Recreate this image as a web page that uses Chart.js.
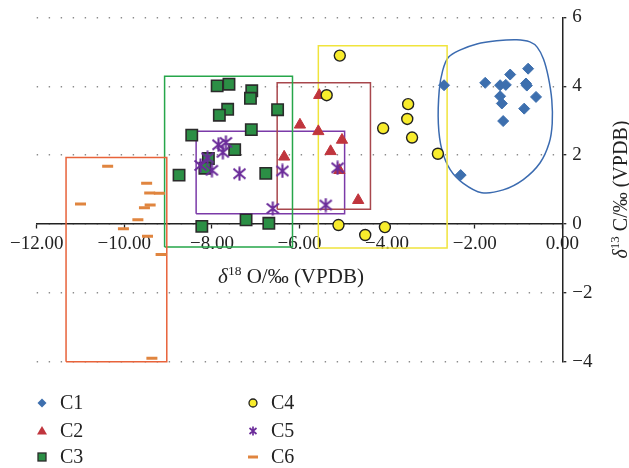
<!DOCTYPE html>
<html>
<head>
<meta charset="utf-8">
<script src="https://cdn.jsdelivr.net/npm/chart.js"></script>
<style>
  html, body { margin: 0; padding: 0; background: #ffffff; }
  #wrap { width: 629px; height: 468px; position: relative; }
</style>
</head>
<body>
<div id="wrap"><canvas id="c" width="629" height="468"></canvas></div>
<script>
// ---------------- DATA ----------------
const categories = ['C1', 'C2', 'C3', 'C4', 'C5', 'C6'];

const c1Points = [[-2.70,4.03],[-1.76,4.10],[-1.42,4.03],[-1.29,4.04],[-1.19,4.34],[-0.78,4.51],[-0.83,4.08],[-0.81,4.02],[-0.60,3.69],[-1.42,3.71],[-1.38,3.50],[-0.87,3.35],[-1.35,2.99],[-2.32,1.42]];
const c2Points = [[-5.55,3.74],[-5.99,2.88],[-5.57,2.69],[-5.03,2.44],[-5.29,2.11],[-6.35,1.95],[-5.09,1.56],[-4.66,0.69]];
const c3Points = [[-7.88,4.01],[-7.61,4.06],[-7.09,3.87],[-7.12,3.65],[-7.64,3.33],[-7.83,3.16],[-6.50,3.32],[-7.10,2.74],[-8.46,2.58],[-7.48,2.16],[-8.08,1.90],[-8.16,1.62],[-8.75,1.42],[-6.77,1.47],[-7.22,0.12],[-6.70,0.02],[-8.23,-0.07]];
const c4Points = [[-5.08,4.89],[-5.38,3.74],[-3.52,3.48],[-3.54,3.05],[-4.09,2.78],[-3.43,2.51],[-2.84,2.04],[-5.11,-0.03],[-4.05,-0.09],[-4.50,-0.32]];
const c5Points = [[-7.85,2.30],[-7.68,2.37],[-7.75,2.08],[-8.10,1.92],[-8.26,1.70],[-8.00,1.56],[-7.37,1.46],[-6.39,1.54],[-5.13,1.63],[-6.61,0.45],[-5.40,0.55]];
const c6Points = [[-10.38,1.68],[-9.49,1.18],[-9.42,0.90],[-9.20,0.89],[-11.00,0.58],[-9.54,0.47],[-9.41,0.55],[-9.69,0.12],[-10.02,-0.14],[-9.47,-0.36],[-9.16,-0.89],[-9.37,-3.90]];

// group boxes: [xMin, xMax, yMin, yMax]
const boxC2 = [-6.51, -4.38, 0.43, 4.10];
const boxC3 = [-9.08, -6.16, -0.67, 4.29];
const boxC4 = [-5.57, -2.63, -0.70, 5.18];
const boxC5 = [-8.36, -4.97, 0.30, 2.69];
const boxC6 = [-11.33, -9.03, -4.00, 1.93];
// C1 enclosing outline
const blobC1 = [[-2.60,4.84],[-2.34,5.05],[-1.95,5.23],[-1.50,5.32],[-1.04,5.35],[-0.74,5.29],[-0.57,5.13],[-0.43,4.79],[-0.32,4.27],[-0.24,3.60],[-0.23,2.92],[-0.30,2.35],[-0.51,1.77],[-0.89,1.29],[-1.35,0.99],[-1.84,0.91],[-2.26,1.18],[-2.56,1.58],[-2.75,2.16],[-2.83,2.92],[-2.81,3.88],[-2.73,4.46]];

const xTicks = [-12, -10, -8, -6, -4, -2, 0];
const yTicks = [-4, -2, 0, 2, 4, 6];

// ---------------- HELPERS ----------------
const SERIF = '"Liberation Serif", "DejaVu Serif", serif';
const toXY = pts => pts.map(p => ({x: p[0], y: p[1]}));
const boxData = b => [{x:b[0],y:b[2]},{x:b[0],y:b[3]},{x:b[1],y:b[3]},{x:b[1],y:b[2]},{x:b[0],y:b[2]}];
const minus = v => (v < 0 ? '\u2212' : '');

const col = {
  c1: '#3d6fae', c2: '#c0353d', c3: '#2b8f45', c4: '#f8ec2c', c5: '#6b2c9a', c6: '#e0853f',
  bC1: '#3b6bb0', bC2: '#a8474c', bC3: '#26a64a', bC4: '#f0e43c', bC5: '#7b3aa8', bC6: '#e8633a'
};

function makeStar(size, color, lw) {
  const cv = document.createElement('canvas');
  cv.width = size; cv.height = size;
  const g = cv.getContext('2d');
  g.strokeStyle = color; g.lineWidth = lw; g.lineCap = 'butt';
  const m = 1.5, s = size;
  g.beginPath();
  g.moveTo(m, m + 1); g.lineTo(s - m, s - m - 1);
  g.moveTo(s - m, m + 1); g.lineTo(m, s - m - 1);
  g.moveTo(s / 2, 0.5); g.lineTo(s / 2, s - 0.5);
  g.stroke();
  return cv;
}
const starBig = makeStar(15, col.c5, 2.1);

// ---------------- PLUGINS ----------------
const blobPlugin = {
  id: 'blob',
  beforeDatasetsDraw(chart) {
    const {ctx, scales: {x, y}} = chart;
    const P = blobC1.map(p => [x.getPixelForValue(p[0]), y.getPixelForValue(p[1])]);
    const n = P.length;
    ctx.save();
    ctx.strokeStyle = col.bC1;
    ctx.lineWidth = 1.5;
    ctx.beginPath();
    ctx.moveTo(P[0][0], P[0][1]);
    for (let i = 0; i < n; i++) {
      const p0 = P[(i - 1 + n) % n], p1 = P[i], p2 = P[(i + 1) % n], p3 = P[(i + 2) % n];
      const c1x = p1[0] + (p2[0] - p0[0]) / 6, c1y = p1[1] + (p2[1] - p0[1]) / 6;
      const c2x = p2[0] - (p3[0] - p1[0]) / 6, c2y = p2[1] - (p3[1] - p1[1]) / 6;
      ctx.bezierCurveTo(c1x, c1y, c2x, c2y, p2[0], p2[1]);
    }
    ctx.closePath();
    ctx.stroke();
    ctx.restore();
  }
};

function drawParts(ctx, parts, x, y, align) {
  let total = 0;
  parts.forEach(p => { ctx.font = (p.italic ? 'italic ' : '') + p.size + 'px ' + SERIF; p.w = ctx.measureText(p.t).width; total += p.w; });
  let cx = align === 'center' ? x - total / 2 : x;
  parts.forEach(p => {
    ctx.font = (p.italic ? 'italic ' : '') + p.size + 'px ' + SERIF;
    ctx.fillText(p.t, cx, y + (p.dy || 0));
    cx += p.w;
  });
}

function legendMarker(ctx, i, x, y) {
  ctx.save();
  if (i === 0) {
    ctx.fillStyle = col.c1; ctx.beginPath();
    ctx.moveTo(x, y - 4.5); ctx.lineTo(x + 4.5, y); ctx.lineTo(x, y + 4.5); ctx.lineTo(x - 4.5, y); ctx.closePath(); ctx.fill();
  } else if (i === 1) {
    ctx.fillStyle = col.c2; ctx.beginPath();
    ctx.moveTo(x, y - 5); ctx.lineTo(x + 5, y + 3.5); ctx.lineTo(x - 5, y + 3.5); ctx.closePath(); ctx.fill();
  } else if (i === 2) {
    ctx.fillStyle = col.c3; ctx.strokeStyle = '#2b2b2b'; ctx.lineWidth = 1.3;
    ctx.fillRect(x - 4, y - 4, 8, 8); ctx.strokeRect(x - 4, y - 4, 8, 8);
  } else if (i === 3) {
    ctx.fillStyle = col.c4; ctx.strokeStyle = '#222'; ctx.lineWidth = 1.3;
    ctx.beginPath(); ctx.arc(x, y, 4, 0, Math.PI * 2); ctx.fill(); ctx.stroke();
  } else if (i === 4) {
    ctx.strokeStyle = col.c5; ctx.lineWidth = 1.7; ctx.beginPath();
    ctx.moveTo(x - 3.5, y - 3); ctx.lineTo(x + 3.5, y + 3);
    ctx.moveTo(x + 3.5, y - 3); ctx.lineTo(x - 3.5, y + 3);
    ctx.moveTo(x, y - 4.5); ctx.lineTo(x, y + 4.5); ctx.stroke();
  } else {
    ctx.strokeStyle = col.c6; ctx.lineWidth = 3; ctx.beginPath();
    ctx.moveTo(x - 5, y); ctx.lineTo(x + 5, y); ctx.stroke();
  }
  ctx.restore();
}

const textPlugin = {
  id: 'texts',
  afterDraw(chart) {
    const ctx = chart.ctx;
    const area = chart.chartArea;
    ctx.save();
    ctx.fillStyle = '#222';
    ctx.textBaseline = 'alphabetic';
    ctx.textAlign = 'left';
    // x title
    drawParts(ctx, [
      {t: '\u03B4', italic: true, size: 21},
      {t: '18', size: 13.5, dy: -8.5},
      {t: ' O/\u2030 (VPDB)', size: 21}
    ], 291, 283, 'center');
    // y title (rotated)
    ctx.save();
    ctx.translate(627, (area.top + area.bottom) / 2);
    ctx.rotate(-Math.PI / 2);
    drawParts(ctx, [
      {t: '\u03B4', italic: true, size: 20},
      {t: '13', size: 13, dy: -8},
      {t: ' C/\u2030 (VPDB)', size: 20}
    ], 0, 0, 'center');
    ctx.restore();
    // legend
    const colX = [42, 253];
    const rowY = [403, 431, 457];
    ctx.textBaseline = 'middle';
    categories.forEach((name, i) => {
      const cx = colX[Math.floor(i / 3)], cy = rowY[i % 3];
      legendMarker(ctx, i, cx, cy);
      ctx.fillStyle = '#222';
      ctx.font = '20px ' + SERIF;
      ctx.fillText(name, cx + 18, cy + 1);
    });
    ctx.restore();
  }
};

// ---------------- CHART ----------------
const boxStyle = (data, color) => ({
  data: boxData(data), showLine: true, borderColor: color, borderWidth: 1.5,
  pointRadius: 0, fill: false, tension: 0, order: 20, clip: false
});

new Chart(document.getElementById('c'), {
  type: 'scatter',
  data: {
    datasets: [
      Object.assign({label: 'boxC6'}, boxStyle(boxC6, col.bC6)),
      Object.assign({label: 'boxC3'}, boxStyle(boxC3, col.bC3)),
      Object.assign({label: 'boxC2'}, boxStyle(boxC2, col.bC2)),
      Object.assign({label: 'boxC5'}, boxStyle(boxC5, col.bC5)),
      Object.assign({label: 'boxC4'}, boxStyle(boxC4, col.bC4)),
      {label: categories[0], data: toXY(c1Points), pointStyle: 'rectRot', pointRadius: 5.5,
       backgroundColor: col.c1, borderColor: col.c1, borderWidth: 1, order: 6},
      {label: categories[1], data: toXY(c2Points), pointStyle: 'triangle', pointRadius: 6.5,
       backgroundColor: col.c2, borderColor: col.c2, borderWidth: 1, order: 5},
      {label: categories[2], data: toXY(c3Points), pointStyle: 'rect', pointRadius: 8,
       backgroundColor: col.c3, borderColor: '#2b2b2b', borderWidth: 1.6, order: 4},
      {label: categories[3], data: toXY(c4Points), pointStyle: 'circle', pointRadius: 5.5,
       backgroundColor: col.c4, borderColor: '#222', borderWidth: 1.4, order: 3},
      {label: categories[4], data: toXY(c5Points), pointStyle: starBig, pointRadius: 7,
       backgroundColor: col.c5, borderColor: col.c5, order: 2},
      {label: categories[5], data: toXY(c6Points), pointStyle: 'line', pointRadius: 5.5,
       borderColor: col.c6, backgroundColor: col.c6, borderWidth: 3, order: 1}
    ]
  },
  options: {
    responsive: false,
    animation: false,
    events: [],
    layout: { padding: { left: 36.7, top: 14, right: 0, bottom: 106.3 } },
    plugins: { legend: { display: false }, tooltip: { enabled: false } },
    scales: {
      x: {
        type: 'linear',
        position: { y: 0 },
        min: xTicks[0], max: xTicks[xTicks.length - 1],
        afterBuildTicks: s => { s.ticks = xTicks.map(v => ({value: v})); },
        ticks: {
          color: '#222', padding: 5, maxRotation: 0, autoSkip: false,
          font: { family: SERIF, size: 19 },
          callback: v => minus(v) + Math.abs(v).toFixed(2)
        },
        grid: { drawOnChartArea: false, drawTicks: true, tickLength: 4, tickColor: '#222', tickWidth: 1.3 },
        border: { display: true, color: '#222', width: 1.5 }
      },
      y: {
        type: 'linear',
        position: 'right',
        min: yTicks[0], max: yTicks[yTicks.length - 1],
        afterBuildTicks: s => { s.ticks = yTicks.map(v => ({value: v})); },
        afterFit: s => { s.width = 66.7; },
        ticks: {
          color: '#222', padding: 6,
          font: { family: SERIF, size: 19 },
          callback: v => minus(v) + Math.abs(v)
        },
        grid: { drawOnChartArea: true, color: '#8c8c8c', lineWidth: 1.4, drawTicks: true,
                tickLength: 4, tickColor: '#222', tickWidth: 1.3, tickBorderDash: [] },
        border: { display: true, color: '#222', width: 1.5, dash: [1.4, 10.6] }
      }
    }
  },
  plugins: [blobPlugin, textPlugin]
});
</script>
</body>
</html>
